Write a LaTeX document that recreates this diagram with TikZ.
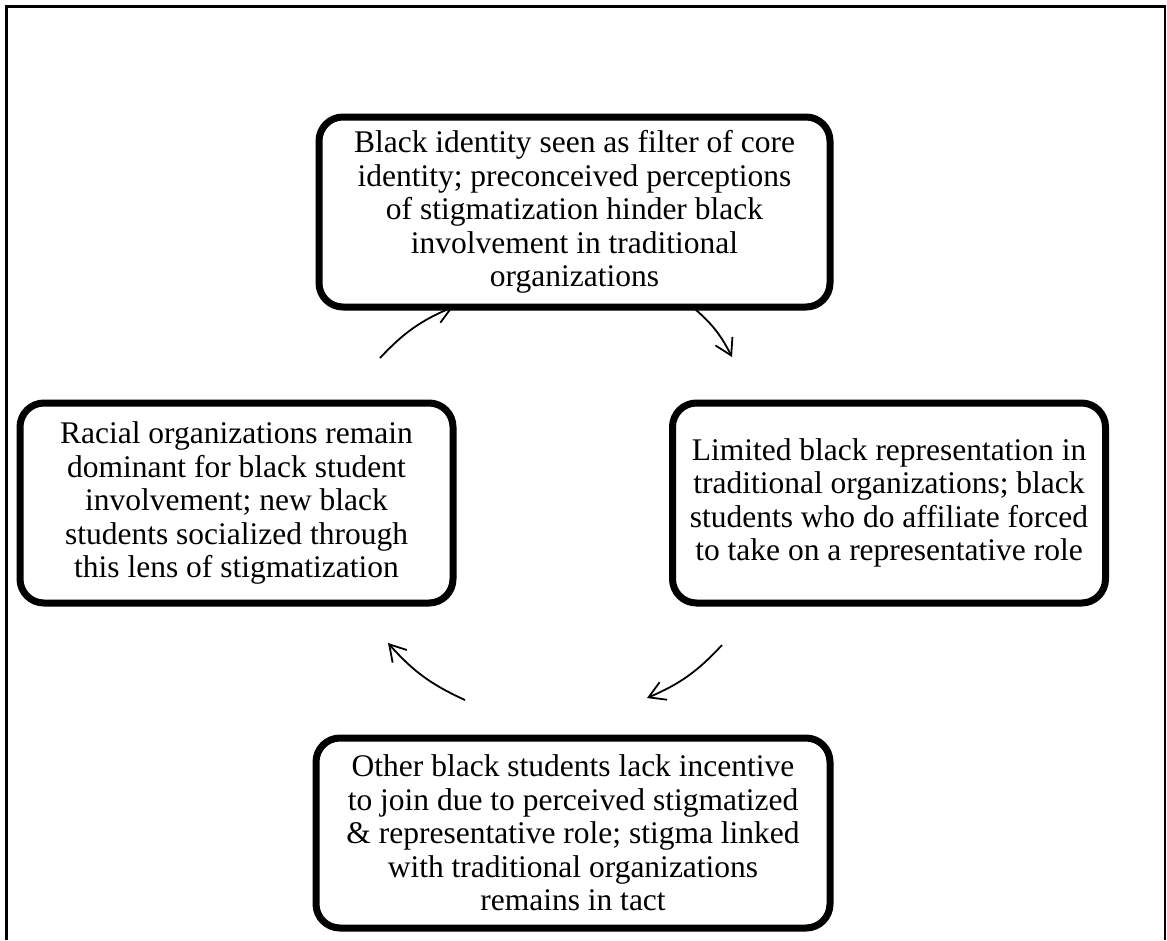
\documentclass[tikz,border=0pt]{standalone}
\usepackage{fontspec}
\setmainfont{Liberation Serif}
\usetikzlibrary{arrows.meta, shadows}

\begin{document}
\begin{tikzpicture}[x=1pt, y=-1pt,
  box/.style={draw, line width=7pt, rounded corners=24pt, fill=white, align=center,
    inner sep=2pt, font=\fontsize{31.5}{33.5}\selectfont,
    drop shadow={shadow xshift=1.5pt, shadow yshift=-3pt, opacity=0.3, fill=black!60}},
  cyc/.style={-{Straight Barb[length=16pt, width=19pt]}, line width=1.8pt}
]
  \useasboundingbox (0,0) rectangle (1167,940);

  % Frame
  \draw[line width=2.8pt] (6.5,940) -- (6.5,6.5) -- (1165,6.5) -- (1165,940);

  % Boxes of the cycle
  \node[box, minimum width=511pt, minimum height=190pt] (core) at (574.5, 212)
    {Black identity seen as filter of core\\identity; preconceived perceptions\\of stigmatization hinder black\\involvement in traditional\\organizations};
  \node[box, minimum width=433pt, minimum height=200pt] (limited) at (889, 503)
    {Limited black representation in\\traditional organizations; black\\students who do affiliate forced\\to take on a representative role};
  \node[box, minimum width=514pt, minimum height=190pt] (others) at (573, 833)
    {Other black students lack incentive\\to join due to perceived stigmatized\\\& representative role; stigma linked\\with traditional organizations\\remains in tact};
  \node[box, minimum width=433pt, minimum height=200pt] (racial) at (236.5, 503)
    {Racial organizations remain\\dominant for black student\\involvement; new black\\students socialized through\\this lens of stigmatization};

  % Arrow ends
  \coordinate (rc-s) at (380, 358);
  \coordinate (rc-e) at (453, 307);
  \coordinate (cl-s) at (690, 305);
  \coordinate (cl-e) at (732, 357);
  \coordinate (lo-s) at (722, 645);
  \coordinate (lo-e) at (647, 698);
  \coordinate (or-s) at (465, 700);
  \coordinate (or-e) at (388, 643);

  % Arrows
  \draw[cyc] (rc-s) to[bend left=12] (rc-e);
  \draw[cyc] (cl-s) to[bend left=12] (cl-e);
  \draw[cyc] (lo-s) to[bend left=12] (lo-e);
  \draw[cyc] (or-s) to[bend left=12] (or-e);
\end{tikzpicture}
\end{document}
